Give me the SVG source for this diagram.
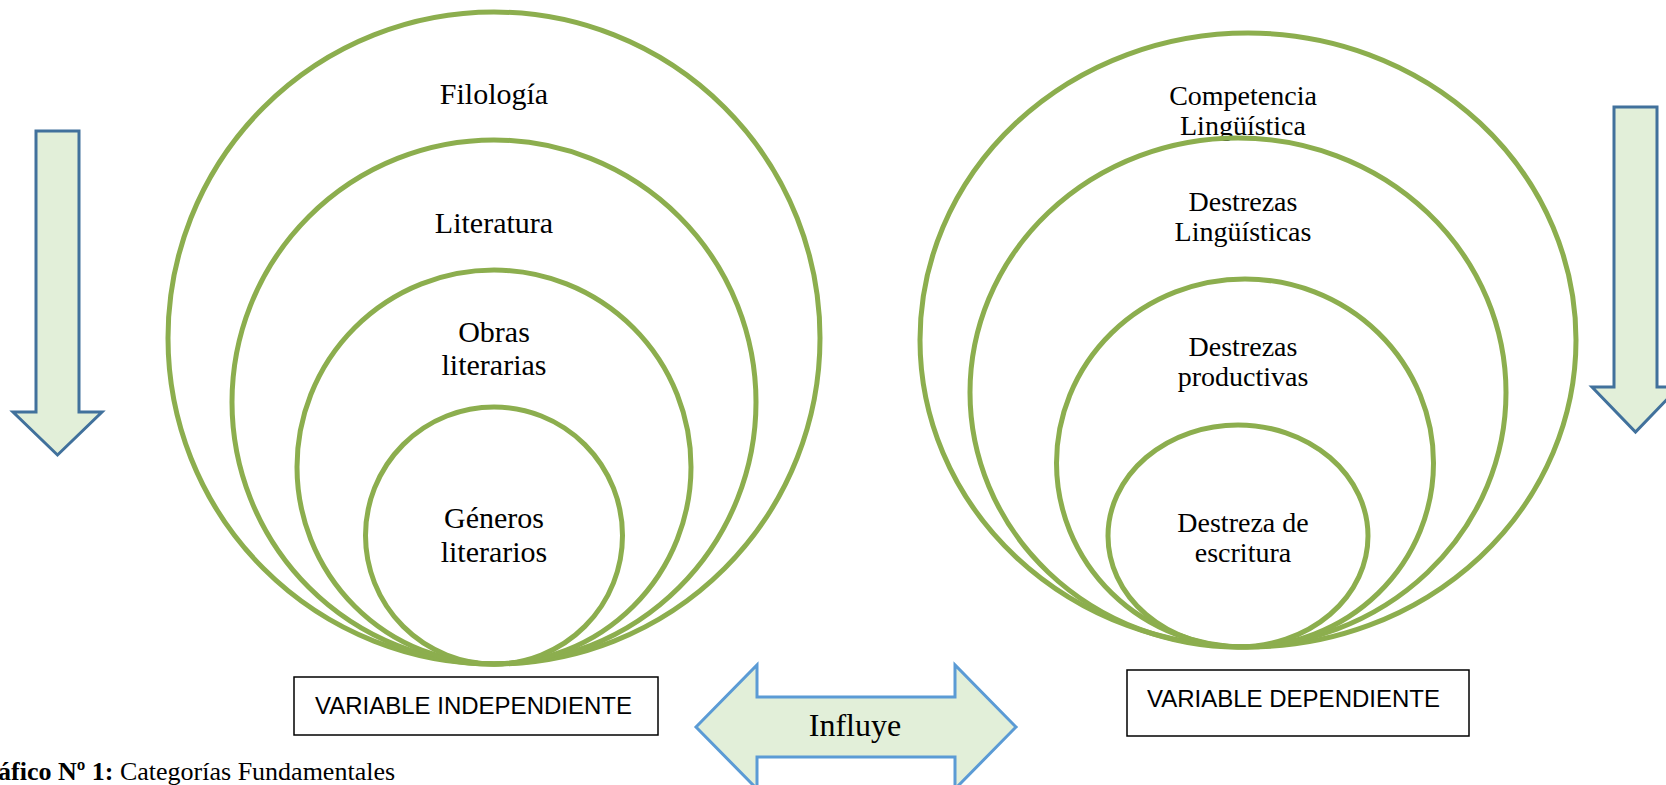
<svg xmlns="http://www.w3.org/2000/svg" width="1666" height="785" viewBox="0 0 1666 785">
<style>
.ring{fill:none;stroke:#8CAE4E;stroke-width:5}
.lbl{font-family:"Liberation Serif","Times New Roman",serif;font-size:30px;fill:#000;text-anchor:middle}
.lbr{font-family:"Liberation Serif","Times New Roman",serif;font-size:28px;fill:#000;text-anchor:middle}
.arr{fill:#E2EFD9;stroke:#41719C;stroke-width:3;stroke-linejoin:miter}
.dbl{fill:#E2EFD9;stroke:#5B9BD5;stroke-width:3}
.box{fill:#fff;stroke:#000;stroke-width:1.5}
.bt{font-family:"Liberation Sans",Arial,sans-serif;font-size:24px;fill:#000}
.cap{font-family:"Liberation Serif","Times New Roman",serif;font-size:26px;fill:#000}
</style>
<rect width="1666" height="785" fill="#fff"/>
<g id="left-set">
<g id="filologia"><circle class="ring" cx="494" cy="338" r="326"/><text class="lbl" x="494" y="104">Filología</text></g>
<g id="literatura"><circle class="ring" cx="494" cy="402" r="262"/><text class="lbl" x="494" y="233">Literatura</text></g>
<g id="obras"><circle class="ring" cx="494" cy="467" r="197"/><text class="lbl" x="494" y="342">Obras</text><text class="lbl" x="494" y="375">literarias</text></g>
<g id="generos"><circle class="ring" cx="494" cy="535.5" r="128.5"/><text class="lbl" x="494" y="528">Géneros</text><text class="lbl" x="494" y="562">literarios</text></g>
</g>
<g id="right-set">
<g id="competencia"><ellipse class="ring" cx="1248" cy="340" rx="328" ry="307"/><text class="lbr" x="1243" y="105">Competencia</text><text class="lbr" x="1243" y="135">Lingüística</text></g>
<g id="destrezas-ling"><ellipse class="ring" cx="1238" cy="392.5" rx="268" ry="254.5"/><text class="lbr" x="1243" y="211">Destrezas</text><text class="lbr" x="1243" y="241">Lingüísticas</text></g>
<g id="destrezas-prod"><ellipse class="ring" cx="1245" cy="463" rx="188.5" ry="184"/><text class="lbr" x="1243" y="356">Destrezas</text><text class="lbr" x="1243" y="386">productivas</text></g>
<g id="escritura"><ellipse class="ring" cx="1238" cy="536" rx="130" ry="111"/><text class="lbr" x="1243" y="532">Destreza de</text><text class="lbr" x="1243" y="562">escritura</text></g>
</g>
<g id="connectors">
<polygon id="arrow-left" class="arr" points="36,131 79,131 79,412 102,412 57.5,455 13,412 36,412"/>
<polygon id="arrow-right" class="arr" points="1614,107 1657,107 1657,387 1679,387 1635.5,432 1592,387 1614,387"/>
<g id="influye"><polygon class="dbl" points="696,727 757,665 757,697 955,697 955,665 1016,727 955,789 955,757 757,757 757,789"/><text class="cap" x="855" y="736" text-anchor="middle" style="font-size:32px">Influye</text></g>
</g>
<g id="box-independiente"><rect class="box" x="294" y="677" width="364" height="58"/><text class="bt" x="315" y="714">VARIABLE INDEPENDIENTE</text></g>
<g id="box-dependiente"><rect class="box" x="1127" y="670" width="342" height="66"/><text class="bt" x="1147" y="707">VARIABLE DEPENDIENTE</text></g>
<text class="cap" x="-2" y="780"><tspan font-weight="bold">áfico Nº 1:</tspan> Categorías Fundamentales</text>
</svg>
